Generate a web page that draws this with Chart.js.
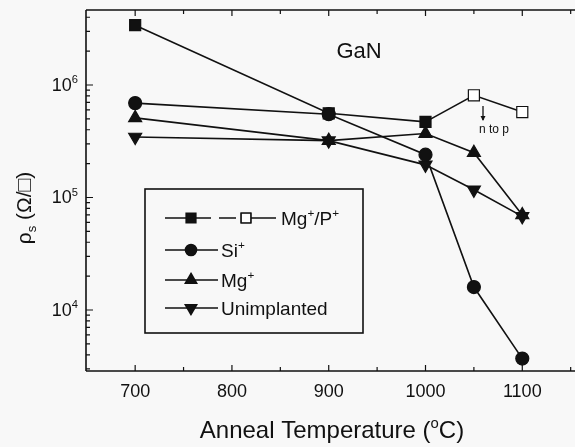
<!DOCTYPE html>
<html>
<head>
<meta charset="utf-8">
<script src="https://cdn.jsdelivr.net/npm/chart.js@4/dist/chart.umd.min.js"></script>
<style>
  html, body { margin: 0; padding: 0; background: #f8f8f8; overflow: hidden; }
  #wrap { width: 600px; height: 447px; }
</style>
</head>
<body>
<div id="wrap"><canvas id="chart" width="600" height="447"></canvas></div>
<script>
/* ---------- DATA ---------- */
const temps        = [700, 900, 1000, 1050, 1100];
const mgpTemps     = [700, 900, 1000];
const mgpValues    = [3.4e6, 5.6e5, 4.7e5];
const mgpOpenTemps = [1000, 1050, 1100];
const mgpOpenVals  = [4.7e5, 8.1e5, 5.75e5];
const siValues     = [6.9e5, 5.5e5, 2.4e5, 1.6e4, 3.7e3];
const mgValues     = [5.1e5, 3.2e5, 3.7e5, 2.5e5, 7.0e4];
const unimpValues  = [3.45e5, 3.2e5, 1.95e5, 1.17e5, 6.8e4];

const xTickValues  = [700, 800, 900, 1000, 1100];
const yTickValues  = [1e4, 1e5, 1e6];
const yTickLabels  = ['10^{4}', '10^{5}', '10^{6}'];
const legendLabels = ['Mg^{+}/P^{+}', 'Si^{+}', 'Mg^{+}', 'Unimplanted'];

const FONT = '"Liberation Sans", Arial, Helvetica, sans-serif';
const INK = '#111';

const pts = (xs, ys) => xs.map((x, i) => ({ x, y: ys[i] }));

/* ---------- RICH TEXT (super/subscripts) ---------- */
function parseRich(s) {
  const out = [];
  const re = /\^\{([^}]*)\}|_\{([^}]*)\}|([^^_]+)/g;
  let m;
  while ((m = re.exec(s))) {
    if (m[1] !== undefined) out.push({ t: m[1], k: 'sup' });
    else if (m[2] !== undefined) out.push({ t: m[2], k: 'sub' });
    else out.push({ t: m[3], k: '' });
  }
  return out;
}

function drawRich(ctx, s, x, y, size, align) {
  const parts = parseRich(s);
  let total = 0;
  parts.forEach(p => {
    p.size = p.k ? size * 0.62 : size;
    ctx.font = `${p.size}px ${FONT}`;
    p.w = ctx.measureText(p.t).width;
    total += p.w;
  });
  let cx = x;
  if (align === 'center') cx = x - total / 2;
  if (align === 'right') cx = x - total;
  ctx.textAlign = 'left';
  ctx.textBaseline = 'alphabetic';
  parts.forEach(p => {
    ctx.font = `${p.size}px ${FONT}`;
    const dy = p.k === 'sup' ? -size * 0.42 : p.k === 'sub' ? size * 0.25 : 0;
    ctx.fillText(p.t, cx, y + dy);
    cx += p.w;
  });
}

/* ---------- MARKERS ---------- */
const mk = {
  square:  { pointStyle: 'rect', pointRadius: 7.8, pointBackgroundColor: INK },
  open:    { pointStyle: 'rect', pointRadius: 7.8, pointBackgroundColor: '#fff' },
  circle:  { pointStyle: 'circle', pointRadius: 6.5, pointBackgroundColor: INK },
  up:      { pointStyle: 'triangle', pointRadius: 7.5, pointBackgroundColor: INK, pointRotation: 0 },
  down:    { pointStyle: 'triangle', pointRadius: 7.5, pointBackgroundColor: INK, pointRotation: 180 }
};

function series(data, marker, extra) {
  return Object.assign({
    data,
    borderColor: INK,
    borderWidth: 1.6,
    pointBorderColor: INK,
    pointBorderWidth: 1.2,
    showLine: true,
    tension: 0
  }, marker, extra || {});
}

/* ---------- DECORATION PLUGIN ---------- */
const decor = {
  id: 'decor',
  afterDraw(chart) {
    const { ctx, chartArea: a, scales: { x, y } } = chart;
    ctx.save();
    ctx.strokeStyle = INK;
    ctx.fillStyle = INK;
    ctx.lineWidth = 1.6;

    // frame: left, bottom, top
    ctx.beginPath();
    ctx.moveTo(a.left, a.top); ctx.lineTo(a.left, a.bottom);
    ctx.moveTo(a.left, a.bottom); ctx.lineTo(a.right, a.bottom);
    ctx.moveTo(a.left, a.top); ctx.lineTo(a.right, a.top);
    ctx.stroke();

    // x ticks, inward, top and bottom
    ctx.lineWidth = 1.2;
    ctx.beginPath();
    for (let v = 700; v <= x.max; v += 50) {
      const px = x.getPixelForValue(v);
      const len = v % 100 === 0 ? 6 : 4;
      ctx.moveTo(px, a.bottom); ctx.lineTo(px, a.bottom - len);
      ctx.moveTo(px, a.top); ctx.lineTo(px, a.top + len);
    }
    // y ticks, major + minor
    for (let d = 3; d <= 6; d++) {
      for (let k = 1; k <= 9; k++) {
        const v = k * Math.pow(10, d);
        if (v < y.min || v > y.max) continue;
        const py = y.getPixelForValue(v);
        const len = k === 1 ? 7 : 4;
        ctx.moveTo(a.left, py); ctx.lineTo(a.left + len, py);
      }
    }
    ctx.stroke();

    // tick labels
    ctx.fillStyle = INK;
    yTickValues.forEach((v, i) => {
      drawRich(ctx, yTickLabels[i], a.left - 8, y.getPixelForValue(v) + 6, 18, 'right');
    });

    // axis titles
    drawRich(ctx, 'Anneal Temperature (^{o}C)', 332, 438, 24, 'center');
    ctx.save();
    ctx.translate(31, 208);
    ctx.rotate(-Math.PI / 2);
    drawRich(ctx, '\u03C1_{s} (\u03A9/\u25A1)', 0, 0, 21, 'center');
    ctx.restore();

    // GaN
    ctx.font = `22px ${FONT}`;
    ctx.textAlign = 'center';
    ctx.textBaseline = 'alphabetic';
    ctx.fillText('GaN', 359, 58);

    // n to p annotation
    ctx.font = `12px ${FONT}`;
    ctx.textAlign = 'left';
    ctx.fillText('n to p', 479, 133);
    ctx.lineWidth = 1.3;
    ctx.beginPath();
    ctx.moveTo(483, 106); ctx.lineTo(483, 120);
    ctx.stroke();
    ctx.beginPath();
    ctx.moveTo(480.5, 116); ctx.lineTo(485.5, 116); ctx.lineTo(483, 121); ctx.closePath();
    ctx.fill();

    // legend box
    ctx.lineWidth = 1.6;
    ctx.strokeRect(145, 189, 218, 144);
    const rows = [218, 250, 280, 308];
    const markers = [mk.square, mk.circle, mk.up, mk.down];
    rows.forEach((ry, i) => {
      ctx.beginPath();
      if (i === 0) {
        ctx.moveTo(165, ry); ctx.lineTo(211, ry);
        ctx.moveTo(219, ry); ctx.lineTo(236, ry);
        ctx.moveTo(250, ry); ctx.lineTo(276, ry);
      } else {
        ctx.moveTo(165, ry); ctx.lineTo(218, ry);
      }
      ctx.stroke();
      const m = markers[i];
      ctx.fillStyle = INK;
      Chart.helpers.drawPoint(ctx, {
        pointStyle: m.pointStyle, radius: m.pointRadius - 1, rotation: m.pointRotation || 0, borderWidth: 1
      }, 191, ry);
      ctx.fill();
      if (i === 0) {
        ctx.fillStyle = '#fff';
        Chart.helpers.drawPoint(ctx, { pointStyle: 'rect', radius: 6.8, rotation: 0, borderWidth: 1 }, 246, ry);
        ctx.fill();
        ctx.lineWidth = 1.3;
        ctx.stroke();
        ctx.lineWidth = 1.6;
      }
      ctx.fillStyle = INK;
      drawRich(ctx, legendLabels[i], i === 0 ? 281 : 221, ry + 7, 19, 'left');
    });

    ctx.restore();
  }
};

/* ---------- CHART ---------- */
new Chart(document.getElementById('chart'), {
  type: 'scatter',
  data: {
    datasets: [
      series(pts(mgpTemps, mgpValues), mk.square),
      series(pts(mgpOpenTemps, mgpOpenVals), mk.open, { pointRadius: [0, 7.8, 7.8] }),
      series(pts(temps, siValues), mk.circle),
      series(pts(temps, mgValues), mk.up),
      series(pts(temps, unimpValues), mk.down)
    ]
  },
  options: {
    responsive: false,
    animation: false,
    devicePixelRatio: 1,
    layout: { padding: { top: 10, right: 0, left: 0, bottom: 0 } },
    plugins: { legend: { display: false }, tooltip: { enabled: false } },
    scales: {
      x: {
        type: 'linear',
        min: 649.2,
        max: 1171,
        afterFit: s => { s.height = 76; },
        afterBuildTicks: s => { s.ticks = xTickValues.map(v => ({ value: v })); },
        grid: { display: false, drawTicks: false },
        border: { display: false },
        ticks: {
          color: INK, font: { family: FONT, size: 18 }, padding: 10, maxRotation: 0,
          callback: v => String(v)
        }
      },
      y: {
        type: 'logarithmic',
        min: 2870,
        max: 4.64e6,
        afterFit: s => { s.width = 86; },
        afterBuildTicks: s => { s.ticks = yTickValues.map(v => ({ value: v })); },
        grid: { display: false, drawTicks: false },
        border: { display: false },
        ticks: { display: false }
      }
    }
  },
  plugins: [decor]
});
</script>
</body>
</html>
